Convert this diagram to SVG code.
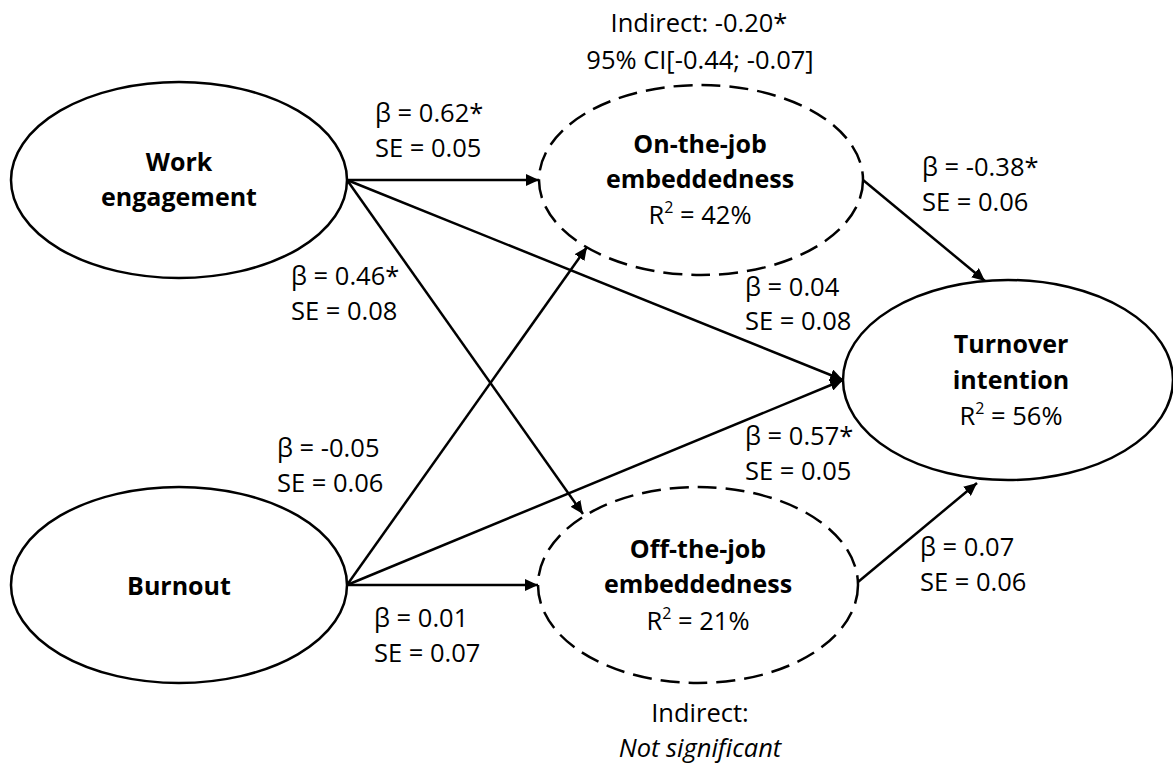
<svg xmlns="http://www.w3.org/2000/svg" width="1173" height="764" viewBox="0 0 1173 764">
<style>
.node{fill:#fff;stroke:#000;stroke-width:2.5}
.dash{stroke-dasharray:19 9}
.t{font-family:"Open Sans","Noto Sans","Liberation Sans",sans-serif;font-size:25.5px;fill:#000}
.b{font-weight:bold;text-anchor:middle;font-size:25px}
.m{text-anchor:middle}
.edge{stroke:#000;stroke-width:2.5;fill:none;marker-end:url(#arr)}
</style>
<defs>
<marker id="arr" markerUnits="userSpaceOnUse" markerWidth="14" markerHeight="12" refX="13" refY="6" orient="auto">
<path d="M0,0 L13,6 L0,12 Z" fill="#000"/>
</marker>
</defs>
<rect width="1173" height="764" fill="#fff"/>
<g id="connectors">
<line class="edge" x1="347" y1="180" x2="539" y2="180"/>
<line class="edge" x1="347" y1="180" x2="843" y2="380"/>
<line class="edge" x1="347" y1="180" x2="583" y2="514"/>
<line class="edge" x1="347" y1="585" x2="587" y2="247"/>
<line class="edge" x1="347" y1="585" x2="843" y2="380"/>
<line class="edge" x1="347" y1="585" x2="538" y2="585"/>
<line class="edge" x1="863" y1="180" x2="985" y2="281"/>
<line class="edge" x1="858" y1="582" x2="977" y2="483"/>
</g>
<g id="work-engagement">
<ellipse class="node" cx="179" cy="180" rx="168" ry="98"/>
<text class="t b" x="179" y="171">Work</text>
<text class="t b" x="179" y="206">engagement</text>
</g>
<g id="burnout">
<ellipse class="node" cx="179" cy="585" rx="168" ry="98"/>
<text class="t b" x="179" y="595">Burnout</text>
</g>
<g id="on-the-job">
<ellipse class="node dash" cx="701" cy="180" rx="162" ry="95"/>
<text class="t b" x="700" y="153">On-the-job</text>
<text class="t b" x="700" y="188">embeddedness</text>
<text class="t m" x="700" y="224">R<tspan font-size="16" baseline-shift="super">2</tspan> = 42%</text>
</g>
<g id="off-the-job">
<ellipse class="node dash" cx="698" cy="585" rx="160" ry="98"/>
<text class="t b" x="698" y="558">Off-the-job</text>
<text class="t b" x="698" y="593">embeddedness</text>
<text class="t m" x="698" y="630">R<tspan font-size="16" baseline-shift="super">2</tspan> = 21%</text>
</g>
<g id="turnover">
<ellipse class="node" cx="1008" cy="380" rx="165" ry="100"/>
<text class="t b" x="1011" y="353">Turnover</text>
<text class="t b" x="1011" y="389">intention</text>
<text class="t m" x="1011" y="425">R<tspan font-size="16" baseline-shift="super">2</tspan> = 56%</text>
</g>
<g id="labels">
<text class="t m" x="699" y="32">Indirect: -0.20*</text>
<text class="t m" x="700" y="69">95% CI[-0.44; -0.07]</text>
<text class="t m" x="700" y="722">Indirect:</text>
<text class="t m" x="700" y="757" font-style="italic">Not significant</text>
<text class="t" x="375" y="122">β = 0.62*</text>
<text class="t" x="375" y="157">SE = 0.05</text>
<text class="t" x="291" y="285">β = 0.46*</text>
<text class="t" x="291" y="320">SE = 0.08</text>
<text class="t" x="745" y="296">β = 0.04</text>
<text class="t" x="745" y="330">SE = 0.08</text>
<text class="t" x="922" y="176">β = -0.38*</text>
<text class="t" x="922" y="211">SE = 0.06</text>
<text class="t" x="277" y="457">β = -0.05</text>
<text class="t" x="277" y="492">SE = 0.06</text>
<text class="t" x="745" y="445">β = 0.57*</text>
<text class="t" x="745" y="480">SE = 0.05</text>
<text class="t" x="920" y="556">β = 0.07</text>
<text class="t" x="920" y="591">SE = 0.06</text>
<text class="t" x="374" y="627">β = 0.01</text>
<text class="t" x="374" y="662">SE = 0.07</text>
</g>
</svg>
